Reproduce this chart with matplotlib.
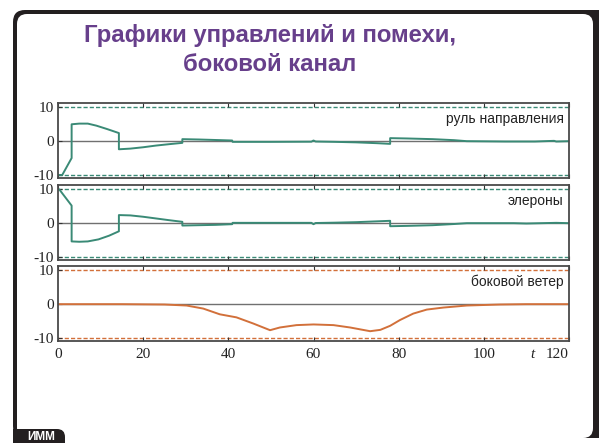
import matplotlib
matplotlib.use('Agg')
import matplotlib.pyplot as plt
from matplotlib.patches import FancyBboxPatch

# rudder deflection, time / value
rudder_t = [0, 1.0, 3.2, 3.2, 5, 7, 9, 11.5, 14.3, 14.3, 17, 20, 23, 26, 29.2, 29.2,
            33, 37, 40.9, 41, 50, 59.5, 60, 60.5, 65, 70, 75, 78, 78, 82, 88, 93,
            96, 105, 112, 116.5, 117, 120]
rudder_v = [-10, -10, -5.0, 5.0, 5.2, 5.2, 4.6, 3.6, 2.4, -2.4, -2.2, -1.8, -1.3, -0.9, -0.5, 0.6,
            0.5, 0.35, 0.2, -0.2, -0.2, -0.15, 0.2, -0.1, -0.2, -0.35, -0.6, -0.8, 0.9, 0.8, 0.6, 0.3,
            0.0, -0.1, -0.1, 0.1, -0.1, 0]

# aileron deflection
aileron_t = [0, 0.3, 3.2, 3.2, 5, 7, 9.5, 12, 14.3, 14.3, 17, 20, 23, 26, 29.2, 29.2,
             33, 37, 40.9, 41, 50, 59.5, 60, 60.5, 65, 70, 75, 78, 78, 82, 88, 93,
             96, 107, 110, 117, 120]
aileron_v = [10, 10, 5.2, -5.4, -5.5, -5.4, -4.8, -3.7, -2.4, 2.4, 2.3, 1.9, 1.4, 0.9, 0.4, -0.7,
             -0.6, -0.5, -0.3, 0.1, 0.1, 0.1, -0.3, 0.05, 0.15, 0.3, 0.55, 0.7, -0.9, -0.8, -0.6, -0.25,
             0, 0, -0.1, 0.1, 0]

# side wind disturbance
wind_t = [0, 15, 25, 30.2, 34.1, 38, 41.9, 45.8, 49.8, 52.1, 56, 60, 64.7, 68.6, 73.3,
          75.7, 78, 80.3, 83.4, 86.6, 90.5, 96, 103.8, 110, 120]
wind_v = [0, 0, -0.1, -0.4, -1.3, -3.0, -3.9, -5.7, -7.7, -6.9, -6.2, -6.0, -6.2, -6.9, -8.0,
          -7.6, -6.4, -4.7, -2.8, -1.6, -1.0, -0.4, -0.1, 0, 0]

limit = 10
xticks = [0, 20, 40, 60, 80, 100, 120]
xticklabels = ['0', '20', '40', '60', '80', '100', '120']
labels = ['руль направления', 'элероны', 'боковой ветер']

teal = '#3a8a76'
orange = '#d2703a'
purple = '#673f8b'
frame = '#231f20'

W, H = 599, 443
fig = plt.figure(figsize=(W / 100, H / 100), dpi=100)

# slide frame
bg = fig.add_axes([0, 0, 1, 1], zorder=-10)
bg.set_xlim(0, W)
bg.set_ylim(H, 0)
bg.axis('off')
bg.add_patch(FancyBboxPatch((13, 10), 640, 428, boxstyle='round,pad=0,rounding_size=12',
                            fc=frame, ec='none'))
bg.add_patch(FancyBboxPatch((17, 14), 576, 424, boxstyle='round,pad=0,rounding_size=10',
                            fc='white', ec='none'))
bg.add_patch(FancyBboxPatch((17, 429), 48, 30, boxstyle='round,pad=0,rounding_size=8',
                            fc=frame, ec='none'))
bg.add_patch(plt.Rectangle((13, 429), 20, 20, fc=frame, ec='none'))
bg.text(41, 437, 'ИММ', color='white', fontsize=8.5, fontweight='bold',
        family='Liberation Sans', ha='center', va='center')

fig.text(270 / W, 1 - 50 / H, 'Графики управлений и помехи,\nбоковой канал', ha='center', va='center',
         color=purple, fontsize=17.2, fontweight='bold', family='Liberation Sans', linespacing=1.3)

series = [(rudder_t, rudder_v, teal), (aileron_t, aileron_v, teal), (wind_t, wind_v, orange)]
tops = [103, 185, 266]
left, right = 58 / W, 569 / W
height = 75 / H

for i, ((t, v, c), top, lab) in enumerate(zip(series, tops, labels)):
    ax = fig.add_axes([left, 1 - top / H - height, right - left, height])
    ax.axhline(0, color='#707070', lw=1.0, zorder=1)
    ax.axhline(limit, color=c, lw=1.0, ls=(0, (3, 1.5)), zorder=1)
    ax.axhline(-limit, color=c, lw=1.0, ls=(0, (3, 1.5)), zorder=1)
    ax.plot(t, v, color=c, lw=1.4, zorder=2)
    ax.set_xlim(0, 120)
    ax.set_ylim(-10.9, 11.3)
    ax.set_xticks(xticks)
    ax.set_yticks([10, 0, -10], ['10', '0', '-10'])
    ax.tick_params(direction='in', top=True, right=False, length=3, width=0.8,
                   color='#333333', labelsize=11, pad=3)
    ax.tick_params(axis='x', pad=5)
    for s in ax.spines.values():
        s.set_color('#4a4a4a')
        s.set_linewidth(1.3)
    ax.text(0.99, 0.88, lab, transform=ax.transAxes, ha='right', va='top',
            fontsize=10, family='Liberation Sans', color='#222222')
    if i < 2:
        ax.tick_params(labelbottom=False)
    else:
        ax.set_xticklabels(xticklabels)
        ax.annotate('t', xy=(111.5, 0), xycoords=ax.get_xaxis_transform(),
                    xytext=(0, -5), textcoords='offset points', ha='center', va='top',
                    fontsize=11, family='Liberation Serif', style='italic', color='#222222')
    for lbl in ax.get_yticklabels() + ax.get_xticklabels():
        lbl.set_family('Liberation Serif')
        lbl.set_color('#222222')
    if i == 2:
        ax.get_xticklabels()[-1].set_horizontalalignment('right')
        ax.get_xticklabels()[-1].set_x(120)

fig.savefig('out.png', dpi=100)
